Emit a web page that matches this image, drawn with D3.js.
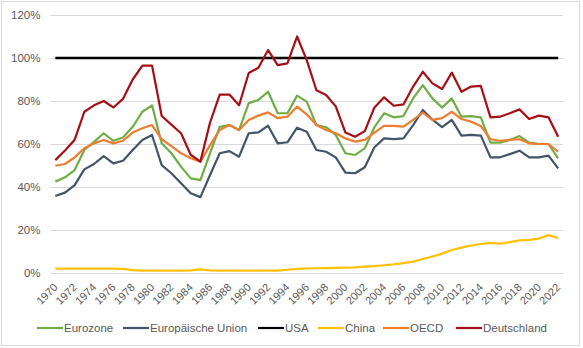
<!DOCTYPE html>
<html>
<head>
<meta charset="utf-8">
<script src="https://cdn.jsdelivr.net/npm/d3@7"></script>
<style>
  body { margin: 0; background: #fff; }
  svg { display: block; font-family: "Liberation Sans", Arial, sans-serif; }
</style>
</head>
<body>
<div id="chart"></div>
<script>
// Jahreswerte 1970 - 2022, Angaben in Prozent
var years = d3.range(1970, 2023)
var yTicks = [0, 20, 40, 60, 80, 100, 120]

var eurozone = [42.5, 44.5, 47.9, 57.2, 61, 65, 61.5, 63, 68, 75,
	78, 60.3, 55.7, 49.5, 44, 43.2, 55.7, 68, 68.8, 66.5,
	79, 80.5, 84.3, 74.3, 74.3, 82.5, 79.7, 68.8, 67.8, 64.2,
	55.7, 54.9, 58, 67.8, 74.3, 72.4, 73, 81.2, 87.4, 81.2,
	76.9, 81.2, 72.7, 73, 72.4, 60.6, 60.6, 61.9, 63.7, 60.6,
	60, 60, 53.3]
var eu = [35.8, 37.4, 40.9, 48.2, 50.7, 54.4, 51, 52.2, 57.2, 61.9,
	64.2, 50.2, 46.4, 41.7, 37.1, 35.3, 45.6, 55.7, 56.7, 54.1,
	65, 65.4, 68.5, 60.3, 60.8, 67.6, 65.7, 57.2, 56.4, 53.8,
	46.7, 46.4, 49.2, 58.5, 62.6, 62.3, 62.6, 68.8, 75.8, 71.3,
	67.8, 71.2, 63.9, 64.2, 63.9, 53.8, 53.8, 55.3, 56.9, 53.8,
	53.8, 54.6, 48.7]
var usa = years.map(function () { return 100 })
var china = [2, 2, 2, 2, 2, 2, 2, 1.9, 1.3, 1.1,
	1.1, 1.1, 1.1, 1.1, 1.2, 1.7, 1.2, 1.1, 1.1, 1.1,
	1.1, 1.1, 1.1, 1.1, 1.5, 1.9, 2.1, 2.2, 2.3, 2.4,
	2.5, 2.6, 3.0, 3.2, 3.6, 4.0, 4.6, 5.3, 6.5, 7.7,
	9.0, 10.7, 11.8, 12.8, 13.5, 14.0, 13.7, 14.4, 15.2, 15.4,
	16.0, 17.6, 16.3]
var oecd = [49.9, 50.7, 53.8, 58, 60.3, 61.9, 60.3, 61.5, 65.3, 67.3,
	68.8, 62.2, 59, 55.7, 53.4, 51.8, 59.5, 66.5, 68.8, 66.5,
	71.2, 73.2, 74.7, 72, 72.7, 77.4, 73.8, 68.8, 66.5, 65,
	62.6, 61.1, 61.9, 65.3, 68.4, 68.4, 68.1, 71.2, 74.6, 71.2,
	72, 75, 71.6, 70.4, 68.4, 62.2, 61.5, 61.9, 62.2, 60.3,
	60, 60, 56.4]
var deutschland = [52.5, 57, 62, 75, 78, 80, 77, 81, 90, 96.5,
	96.5, 73, 69, 65, 55, 51.8, 70, 83, 83, 78,
	93, 95.5, 103.7, 96.7, 97.5, 110, 99, 85, 82.8, 77.5,
	65.3, 63.4, 66, 77, 81.7, 77.8, 78.4, 86.7, 93.6, 88.2,
	85.6, 93.2, 84.3, 86.7, 87, 72.4, 72.7, 74.3, 76.1, 71.6,
	73.2, 72.4, 63.4]

var seriesNames = ["Eurozone", "Europäische Union", "USA", "China", "OECD", "Deutschland"]
var seriesValues = [eurozone, eu, usa, china, oecd, deutschland]
var colors = ["#70ad47", "#44546a", "#000000", "#ffc000", "#ed7d31", "#a50f15"]

var width = 583
var height = 348
var plot = { left: 50.5, right: 563, top: 15, bottom: 273 }
var textColor = "#595959"
var gridColor = "#d9d9d9"

var svg = d3.select("#chart")
	.append("svg")
	.attr("width", width)
	.attr("height", height)

// Rahmen um das Diagramm
svg.append("rect")
	.attr("x", 1.5)
	.attr("y", 1.5)
	.attr("width", 578)
	.attr("height", 344)
	.attr("fill", "#fff")
	.attr("stroke", gridColor)

var x = d3.scalePoint()
	.domain(years)
	.range([plot.left, plot.right])
	.padding(0.5)

var y = d3.scaleLinear()
	.domain([0, 120])
	.range([plot.bottom, plot.top])

// Gitternetz + Y-Achse
var yAxis = svg.append("g")
	.attr("transform", "translate(" + plot.left + ",0)")
	.call(d3.axisLeft(y)
		.tickValues(yTicks)
		.tickSize(-(plot.right - plot.left))
		.tickPadding(10)
		.tickFormat(function (d) { return d + "%" }))
yAxis.select(".domain").remove()
yAxis.selectAll("line").attr("stroke", gridColor)
yAxis.selectAll("text")
	.attr("fill", textColor)
	.style("font-size", "11.5px")
	.style("font-family", "Liberation Sans, Arial, sans-serif")

// X-Achse, nur jedes zweite Jahr beschriftet
var xAxis = svg.append("g")
	.attr("transform", "translate(0," + plot.bottom + ")")
	.call(d3.axisBottom(x).tickSize(0).tickFormat(""))
xAxis.select(".domain").attr("stroke", gridColor)

svg.append("g")
	.selectAll("text")
	.data(years.filter(function (d) { return d % 2 == 0 }))
	.enter()
	.append("text")
	.attr("transform", function (d) { return "translate(" + (x(d) + 3) + "," + (plot.bottom + 15) + ") rotate(-45)" })
	.attr("text-anchor", "end")
	.attr("fill", textColor)
	.style("font-size", "11px")
	.text(function (d) { return d })

// Linien
var line = d3.line()
	.x(function (d, i) { return x(years[i]) })
	.y(function (d) { return y(d) })

svg.append("g")
	.selectAll("path")
	.data(seriesValues)
	.enter()
	.append("path")
	.attr("fill", "none")
	.attr("stroke", function (d, i) { return colors[i] })
	.attr("stroke-width", function (d, i) { return i == 2 ? 2.6 : 2.2 })
	.attr("stroke-linejoin", "round")
	.attr("d", line)

// Legende
var legendPos = [37, 123, 258, 318, 383, 456]
var legend = svg.append("g")
	.selectAll("g")
	.data(seriesNames)
	.enter()
	.append("g")
	.attr("transform", function (d, i) { return "translate(" + legendPos[i] + ",328)" })

legend.append("line")
	.attr("x1", 0)
	.attr("x2", 26)
	.attr("stroke", function (d, i) { return colors[i] })
	.attr("stroke-width", 2.2)

legend.append("text")
	.attr("x", 27)
	.attr("y", 4)
	.attr("fill", textColor)
	.style("font-size", "11.5px")
	.text(function (d) { return d })
</script>
</body>
</html>
